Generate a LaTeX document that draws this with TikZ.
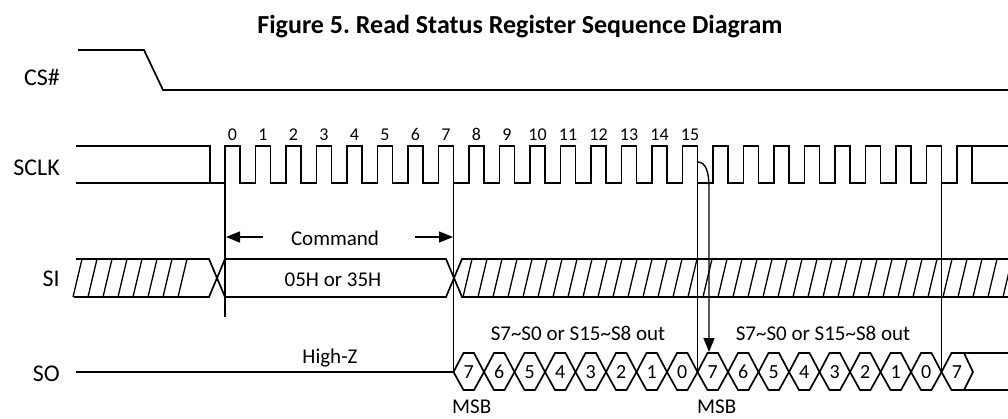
\documentclass[tikz,border=0pt]{standalone}
\usepackage{fontspec}
\setmainfont{Carlito}
\usetikzlibrary{arrows.meta}
\frenchspacing
\begin{document}
\begin{tikzpicture}[x=1pt,y=-1pt,
  wave/.style={line width=1.7pt, line join=miter},
  guide/.style={line width=1.4pt},
  hatch/.style={line width=1.3pt},
  txt/.style={font=\fontsize{21}{25}\selectfont, inner sep=0pt, anchor=base},
  sig/.style={font=\fontsize{24}{28}\selectfont, inner sep=0pt, anchor=base east},
  num/.style={font=\fontsize{18}{22}\selectfont, inner sep=0pt, anchor=base},
  hexd/.style={font=\fontsize{20}{24}\selectfont, inner sep=0pt, anchor=base},
  ttl/.style={font=\bfseries\fontsize{26}{30}\selectfont, inner sep=0pt, anchor=base},
  arr/.style={-{Triangle[length=14pt,width=11pt]}, line width=1.4pt},
]
\useasboundingbox (0,0) rectangle (1008,418);
\fill[white] (0,0) rectangle (1008,418);

% title
\node[ttl] (title) at (520,33) {Figure 5.\ Read Status Register Sequence Diagram};

% signal labels
\node[sig] (lcs) at (60,85) {CS\#};
\node[sig] (lsclk) at (60,175) {SCLK};
\node[sig] (lsi) at (60,286.5) {SI};
\node[sig] (lso) at (60,381.5) {SO};

% CS#
\draw[wave] (78,50) -- (144,50) -- (163,90) -- (1008,90);

% SCLK
\draw[wave] (76,146) -- (210,146) -- (210,183);
\draw[wave] (76,183) -- (225,183)
  \foreach \k in {0,...,23} { -- ++(0,-37) -- ++(15,0) -- ++(0,37) -- ++(15.5,0) }
  -- ++(0,-37) -- (1008,146);
\draw[wave] (972,146) -- (972,183) -- (1008,183);

% clock numbers
\foreach \k in {0,...,15} {
  \node[num] (n\k) at ({232.5+30.5*\k},140) {\k};
}

% guide lines
\draw[guide] (225,146) -- (225,317);
\draw[guide] (453.5,146) -- (453.5,372);
\draw[guide] (697.5,146) -- (697.5,372);
\draw[guide] (941.5,146) -- (941.5,372);

% SI
\draw[wave] (76,259) -- (209,259) -- (225,297) -- (446,297) -- (462,259) -- (1008,259);
\draw[wave] (74,297) -- (209,297) -- (225,259) -- (446,259) -- (462,297) -- (1008,297);
\foreach \x in {82,97,...,200} {
  \draw[hatch] (\x,259) -- ({\x-9},297);
}
\begin{scope}
  \clip (462,259) -- (1008,259) -- (1008,297) -- (462,297) -- (458,288) -- cycle;
  \foreach \x in {472,487,...,1020} {
    \draw[hatch] (\x,259) -- ({\x-9},297);
  }
\end{scope}

% SI texts
\node[txt] (cmdval) at (333,286.5) {05H or 35H};
\node[txt] (cmd) at (335,245) {Command};
\coordinate (cmdL) at (226,237);
\coordinate (cmdLt) at (263,237);
\coordinate (cmdR) at (453,237);
\coordinate (cmdRt) at (415,237);
\draw[arr] (cmdLt) -- (cmdL);
\draw[arr] (cmdRt) -- (cmdR);

% SO
\draw[wave] (76,372) -- (453.5,372);
\node[txt] (highz) at (330,363.3) {High-Z};
\foreach \i/\d in {0/7,1/6,2/5,3/4,4/3,5/2,6/1,7/0,8/7,9/6,10/5,11/4,12/3,13/2,14/1,15/0} {
  \pgfmathsetmacro{\cl}{453.5+30.5*\i}
  \pgfmathsetmacro{\cr}{453.5+30.5*(\i+1)}
  \draw[wave] (\cl,372) -- ({\cl+10},353) -- ({\cr-10},353) -- (\cr,372)
     -- ({\cr-10},390) -- ({\cl+10},390) -- cycle;
  \node[hexd] (d\i) at ({\cl+15.25},378) {\d};
}
\draw[wave] (1008,353) -- (951.5,353) -- (941.5,372) -- (951.5,390) -- (1008,390);
\draw[wave] (964,353) -- (973,372) -- (964,390);
\node[hexd] (d16) at (957,378) {7};

\node[txt] (out1) at (578,340) {S7\textasciitilde S0 or S15\textasciitilde S8 out};
\node[txt] (out2) at (823,340) {S7\textasciitilde S0 or S15\textasciitilde S8 out};
\node[txt, anchor=base west] (msb1) at (452,413) {MSB};
\node[txt, anchor=base west] (msb2) at (697,413) {MSB};

% arrow from clock 15 falling edge to SO
\coordinate (ctop) at (697.5,162);
\coordinate (sotop) at (709,352);
\draw[arr] (ctop) .. controls (706,162) and (709,172) .. (709,188) -- (sotop);
\end{tikzpicture}
\end{document}
